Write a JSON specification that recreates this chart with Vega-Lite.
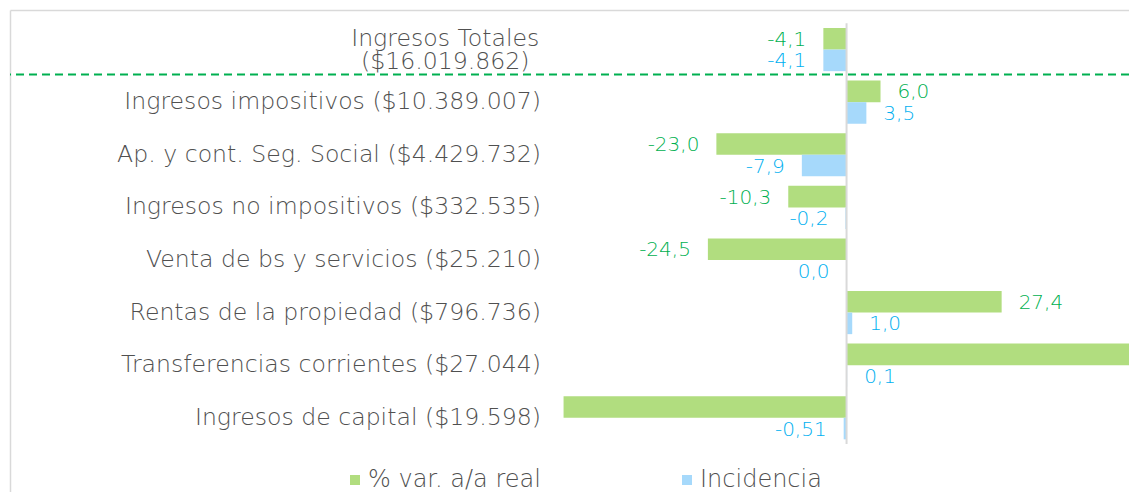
{
  "$schema": "https://vega.github.io/schema/vega-lite/v6.json",
  "width": 1119,
  "height": 482,
  "autosize": {"type": "none"},
  "padding": {"left": 10, "top": 10, "right": 0, "bottom": 0},
  "background": "white",
  "config": {"view": {"stroke": null}, "font": "DejaVu Sans"},
  "datasets": {
    "bars": [
      {"cat": "Ingresos Totales ($16.019.862)", "series": "% var. a/a real", "value": -4.1, "label": "-4,1"},
      {"cat": "Ingresos Totales ($16.019.862)", "series": "Incidencia", "value": -4.1, "label": "-4,1"},
      {"cat": "Ingresos impositivos ($10.389.007)", "series": "% var. a/a real", "value": 6.0, "label": "6,0"},
      {"cat": "Ingresos impositivos ($10.389.007)", "series": "Incidencia", "value": 3.5, "label": "3,5"},
      {"cat": "Ap. y cont. Seg. Social ($4.429.732)", "series": "% var. a/a real", "value": -23.0, "label": "-23,0"},
      {"cat": "Ap. y cont. Seg. Social ($4.429.732)", "series": "Incidencia", "value": -7.9, "label": "-7,9"},
      {"cat": "Ingresos no impositivos ($332.535)", "series": "% var. a/a real", "value": -10.3, "label": "-10,3"},
      {"cat": "Ingresos no impositivos ($332.535)", "series": "Incidencia", "value": -0.2, "label": "-0,2"},
      {"cat": "Venta de bs y servicios ($25.210)", "series": "% var. a/a real", "value": -24.5, "label": "-24,5"},
      {"cat": "Venta de bs y servicios ($25.210)", "series": "Incidencia", "value": 0.0, "label": "0,0"},
      {"cat": "Rentas de la propiedad ($796.736)", "series": "% var. a/a real", "value": 27.4, "label": "27,4"},
      {"cat": "Rentas de la propiedad ($796.736)", "series": "Incidencia", "value": 1.0, "label": "1,0"},
      {"cat": "Transferencias corrientes ($27.044)", "series": "% var. a/a real", "value": 60, "label": ""},
      {"cat": "Transferencias corrientes ($27.044)", "series": "Incidencia", "value": 0.1, "label": "0,1"},
      {"cat": "Ingresos de capital ($19.598)", "series": "% var. a/a real", "value": -50, "label": ""},
      {"cat": "Ingresos de capital ($19.598)", "series": "Incidencia", "value": -0.51, "label": "-0,51"}
    ],
    "cats": [
      {"cat": "Ingresos Totales ($16.019.862)", "display": "Ingresos Totales\n($16.019.862)"},
      {"cat": "Ingresos impositivos ($10.389.007)", "display": "Ingresos impositivos ($10.389.007)"},
      {"cat": "Ap. y cont. Seg. Social ($4.429.732)", "display": "Ap. y cont. Seg. Social ($4.429.732)"},
      {"cat": "Ingresos no impositivos ($332.535)", "display": "Ingresos no impositivos ($332.535)"},
      {"cat": "Venta de bs y servicios ($25.210)", "display": "Venta de bs y servicios ($25.210)"},
      {"cat": "Rentas de la propiedad ($796.736)", "display": "Rentas de la propiedad ($796.736)"},
      {"cat": "Transferencias corrientes ($27.044)", "display": "Transferencias corrientes ($27.044)"},
      {"cat": "Ingresos de capital ($19.598)", "display": "Ingresos de capital ($19.598)"}
    ]
  },
  "layer": [
    {
      "data": {"name": "bars"},
      "mark": {"type": "bar", "clip": true},
      "encoding": {
        "y": {
          "field": "cat", "type": "nominal", "title": null,
          "scale": {
            "domain": ["Ingresos Totales ($16.019.862)", "Ingresos impositivos ($10.389.007)", "Ap. y cont. Seg. Social ($4.429.732)", "Ingresos no impositivos ($332.535)", "Venta de bs y servicios ($25.210)", "Rentas de la propiedad ($796.736)", "Transferencias corrientes ($27.044)", "Ingresos de capital ($19.598)"],
            "paddingInner": 0.18, "paddingOuter": 0.672, "align": 0.255
          },
          "axis": {"labels": false, "ticks": false, "grid": false, "title": null, "domain": true, "domainColor": "#d9d9d9", "domainWidth": 1.5}
        },
        "yOffset": {"field": "series", "type": "nominal", "scale": {"domain": ["% var. a/a real", "Incidencia"], "paddingInner": 0, "paddingOuter": 0}},
        "x": {
          "field": "value", "type": "quantitative", "title": null,
          "scale": {"domain": [-147.8, 49.9], "nice": false, "zero": false},
          "axis": {"orient": "top", "labels": false, "ticks": false, "grid": false, "title": null, "domain": true, "domainColor": "#d9d9d9", "domainWidth": 1.5}
        },
        "color": {
          "field": "series", "type": "nominal",
          "scale": {"domain": ["% var. a/a real", "Incidencia"], "range": ["#b1dd7f", "#a6d9fb"]},
          "legend": {"orient": "none", "legendX": 333, "legendY": 458, "direction": "horizontal", "title": null, "symbolType": "square", "symbolSize": 100, "symbolStrokeWidth": 0, "labelFontSize": 24, "labelFontWeight": 200, "labelColor": "#505050", "labelOffset": 1, "labelLimit": 400, "columnPadding": 134}
        }
      }
    },
    {
      "data": {"name": "bars"},
      "transform": [{"filter": "datum.value <= 0 && datum.value > -50"}],
      "mark": {"type": "text", "align": "right", "baseline": "middle", "dx": -17, "dy": 1, "fontSize": 20, "fontWeight": 200},
      "encoding": {
        "y": {"field": "cat", "type": "nominal", "title": null},
        "yOffset": {"field": "series", "type": "nominal"},
        "x": {"field": "value", "type": "quantitative", "title": null},
        "text": {"field": "label"},
        "color": {"condition": {"test": "datum.series === 'Incidencia'", "value": "#00b0f0"}, "value": "#00b050"}
      }
    },
    {
      "data": {"name": "bars"},
      "transform": [{"filter": "datum.value > 0 && datum.value < 49"}],
      "mark": {"type": "text", "align": "left", "baseline": "middle", "dx": 17, "dy": 1, "fontSize": 20, "fontWeight": 200},
      "encoding": {
        "y": {"field": "cat", "type": "nominal", "title": null},
        "yOffset": {"field": "series", "type": "nominal"},
        "x": {"field": "value", "type": "quantitative", "title": null},
        "text": {"field": "label"},
        "color": {"condition": {"test": "datum.series === 'Incidencia'", "value": "#00b0f0"}, "value": "#00b050"}
      }
    },
    {
      "data": {"name": "cats"},
      "transform": [{"filter": "datum.cat !== 'Ingresos Totales ($16.019.862)'"}],
      "mark": {"type": "text", "align": "right", "baseline": "middle", "fontSize": 23.6, "fontWeight": 200, "color": "#505050"},
      "encoding": {
        "y": {"field": "cat", "type": "nominal", "title": null},
        "x": {"datum": -54.0, "type": "quantitative", "title": null},
        "text": {"field": "display"}
      }
    },
    {
      "data": {"name": "cats"},
      "transform": [{"filter": "datum.cat === 'Ingresos Totales ($16.019.862)'"}],
      "mark": {"type": "text", "align": "center", "baseline": "middle", "dy": -11, "fontSize": 23.6, "fontWeight": 200, "color": "#505050", "lineBreak": "\n", "lineHeight": 23},
      "encoding": {
        "y": {"field": "cat", "type": "nominal", "title": null},
        "x": {"datum": -70.9, "type": "quantitative", "title": null},
        "text": {"field": "display"}
      }
    },
    {
      "data": {"values": [{}]},
      "mark": {"type": "rule", "color": "#00b050", "strokeWidth": 2, "strokeDash": [8, 5]},
      "encoding": {
        "y": {"datum": "Ingresos Totales ($16.019.862)", "type": "nominal", "bandPosition": 1.08, "title": null}
      }
    },
    {
      "data": {"values": [{}]},
      "mark": {"type": "rule", "color": "#d9d9d9", "strokeWidth": 2},
      "encoding": {
        "x": {"datum": 0, "type": "quantitative", "title": null},
        "y": {"datum": "Ingresos Totales ($16.019.862)", "type": "nominal", "bandPosition": -0.11, "title": null},
        "y2": {"datum": "Ingresos de capital ($19.598)", "bandPosition": 1.11}
      }
    }
  ]
}
